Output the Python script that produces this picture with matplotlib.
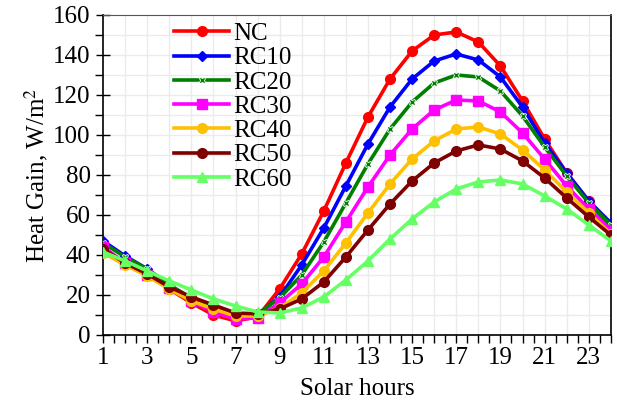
import numpy as np
import matplotlib
matplotlib.use("Agg")
from matplotlib import pyplot as plt
from matplotlib.ticker import MultipleLocator, FixedLocator

# Dados (ganho de calor, W/m2, por hora solar)
horas = list(range(1, 25))

nc = [43, 36, 30, 23, 16, 10, 7, 9, 23, 40.5, 62, 86, 109, 128, 142, 150,
      151.5, 146.5, 134.5, 117, 98, 81, 67, 53]
rc10 = [47, 39.5, 33, 25, 18, 12, 9, 10, 19, 35, 53.5, 74.5, 95.5, 114, 128,
        137, 140.5, 137.5, 129, 114, 96, 81, 67, 56]
rc20 = [46, 39, 33, 25, 18.5, 13, 10, 10.5, 18.5, 30, 46.5, 66, 85.5, 103,
        116.5, 126, 130, 129, 122, 109.5, 94, 79.5, 66, 55]
rc30 = [44, 36, 30, 23.5, 17, 11.5, 8, 8.5, 16, 25.5, 39, 56.5, 74, 90, 103,
        112.5, 117.5, 117, 111.5, 101, 88, 74.5, 63, 52.5]
rc40 = [41, 35, 29.5, 23, 17, 13, 9.5, 9.5, 13.5, 21, 32, 46, 61, 75.5, 88,
        97, 103, 104, 100.5, 92.5, 82.5, 71.5, 61, 50.5]
rc50 = [43, 36, 30.5, 24, 19, 15, 11, 10.5, 13, 18, 26.5, 39, 52.5, 65.5, 77,
        86, 92, 95, 93, 87, 78.5, 68.5, 59, 50]
rc60 = [41.5, 37, 32, 27, 22.5, 18, 14.5, 11.5, 11, 13.5, 19, 27.5, 37, 48,
        58, 66.5, 73, 76.5, 77.5, 75.5, 69.5, 63, 55, 47]

series = [
    ("NC", nc, "#FF0000", "o", 7),
    ("RC10", rc10, "#0000FF", "D", 5),
    ("RC20", rc20, "#008000", "X", 5),
    ("RC30", rc30, "#FF00FF", "s", 7),
    ("RC40", rc40, "#FFC000", "o", 7),
    ("RC50", rc50, "#7F0000", "o", 7),
    ("RC60", rc60, "#66FF66", "^", 7),
]

plt.rcParams["font.family"] = ["Liberation Serif", "DejaVu Serif"]
plt.rcParams["mathtext.fontset"] = "stix"

fig = plt.figure(figsize=(6.17, 4.05), dpi=100)
ax = fig.add_axes([0.167, 0.173, 0.823, 0.79])

for nome, valores, cor, marcador, tam in series:
    if marcador == "X":
        ax.plot(horas, valores, color=cor, lw=2.6, marker=marcador, ms=tam,
                mfc=cor, mec="white", mew=0.6, label=nome, zorder=3)
    else:
        ax.plot(horas, valores, color=cor, lw=2.6, marker=marcador, ms=tam,
                mfc=cor, mec=cor, label=nome, zorder=3)

ax.set_xlim(1, 24)
ax.set_ylim(0, 160)

ax.xaxis.set_major_locator(FixedLocator(list(range(1, 24, 2))))
ax.xaxis.set_minor_locator(MultipleLocator(0.5))
ax.yaxis.set_major_locator(MultipleLocator(20))
ax.yaxis.set_minor_locator(MultipleLocator(10))

ax.tick_params(axis="both", which="major", labelsize=18, direction="out",
               length=6, width=1, color="black")
ax.tick_params(axis="both", which="minor", direction="out", length=6,
               width=1, color="black")
ax.tick_params(axis="y", which="major", direction="inout", length=10, pad=4)
ax.tick_params(axis="x", which="major", pad=3)

# grade clara a cada hora e a cada 10 W/m2
for h in range(2, 24):
    ax.axvline(h, color="#EBEBEB", lw=1, zorder=0)
for v in range(10, 160, 10):
    ax.axhline(v, color="#EBEBEB", lw=1, zorder=0)

ax.spines["top"].set_color("#555555")
ax.spines["left"].set_linewidth(1.2)
ax.spines["bottom"].set_linewidth(1.2)
ax.spines["right"].set_linewidth(1.2)

ax.set_xlabel("Solar hours", fontsize=18, labelpad=6)
ax.set_ylabel("Heat Gain, W/m$^2$", fontsize=18, labelpad=2)

ax.legend(loc="upper left", bbox_to_anchor=(0.262, 0.975),
          bbox_transform=fig.transFigure, frameon=False, fontsize=18,
          handlelength=2.2, handletextpad=0.18, labelspacing=0.07,
          borderpad=0)

fig.savefig("out.png", dpi=100)
